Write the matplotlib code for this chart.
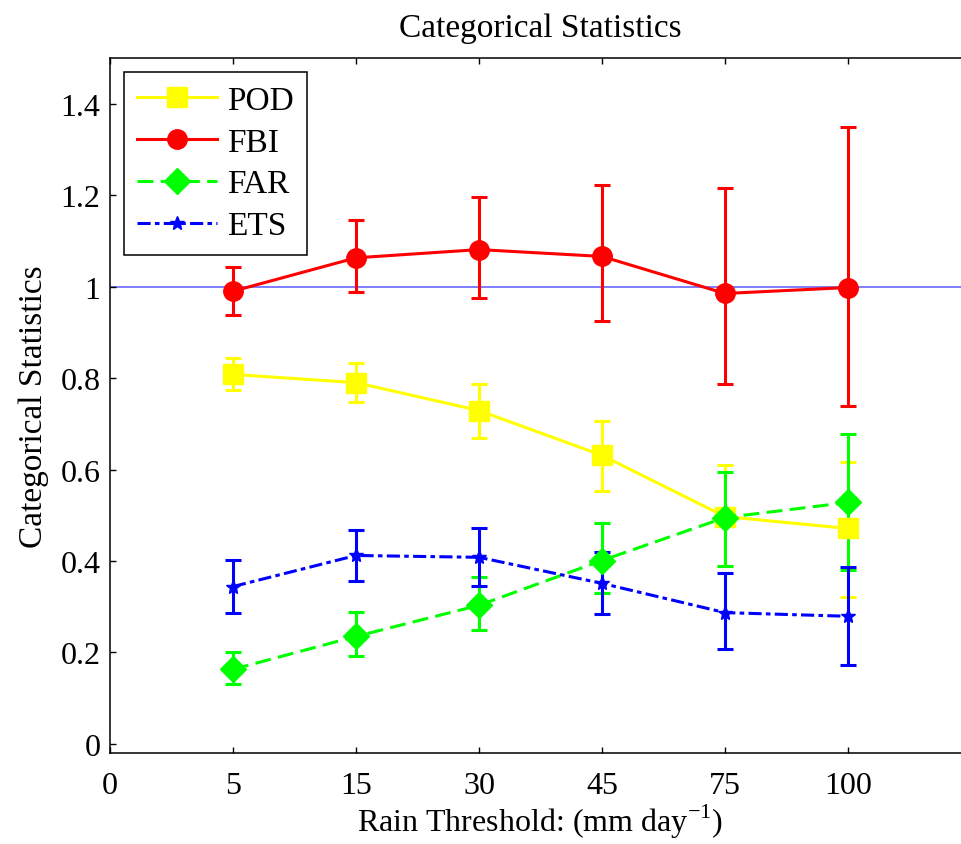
import numpy as np
import matplotlib
matplotlib.use('Agg')
import matplotlib.pyplot as plt

# rain thresholds (mm/day), plotted at equally spaced positions
thresholds = ['5', '15', '30', '45', '75', '100']
x_tick_labels = ['0'] + thresholds

# mean value, lower end and upper end of the error bar for each score
pod = [0.808, 0.790, 0.729, 0.631, 0.497, 0.471]
pod_low = [0.773, 0.747, 0.668, 0.552, 0.390, 0.322]
pod_high = [0.843, 0.834, 0.786, 0.707, 0.609, 0.617]

fbi = [0.990, 1.063, 1.081, 1.066, 0.985, 0.998]
fbi_low = [0.937, 0.989, 0.976, 0.924, 0.788, 0.740]
fbi_high = [1.042, 1.146, 1.195, 1.223, 1.216, 1.350]

far = [0.163, 0.235, 0.303, 0.401, 0.495, 0.528]
far_low = [0.132, 0.193, 0.250, 0.331, 0.388, 0.380]
far_high = [0.200, 0.288, 0.366, 0.484, 0.595, 0.677]

ets = [0.344, 0.412, 0.408, 0.351, 0.287, 0.279]
ets_low = [0.287, 0.357, 0.346, 0.283, 0.207, 0.172]
ets_high = [0.403, 0.467, 0.473, 0.420, 0.373, 0.386]

y_ticks = [0, 0.2, 0.4, 0.6, 0.8, 1.0, 1.2, 1.4]
y_tick_labels = ['0', '0.2', '0.4', '0.6', '0.8', '1', '1.2', '1.4']

plt.rcParams['font.family'] = ['Liberation Serif', 'DejaVu Serif']
plt.rcParams['mathtext.fontset'] = 'custom'
plt.rcParams['mathtext.rm'] = 'Liberation Serif'
fs = 24
fs_tick = 23

W, H = 962, 845
fig = plt.figure(figsize=(W / 100, H / 100), dpi=100)
ax = fig.add_axes([110 / W, 1 - 754 / H, (971 - 110) / W, (754 - 59) / H])

pos = np.arange(1, len(thresholds) + 1)
lw = 2.2

series = [
    ('POD', pod, pod_low, pod_high, '#ffff00', 's', 14, '-'),
    ('FBI', fbi, fbi_low, fbi_high, '#ff0000', 'o', 14, '-'),
    ('FAR', far, far_low, far_high, '#00ff00', 'D', 13, (0, (5.2, 2.4))),
    ('ETS', ets, ets_low, ets_high, '#0000ff', '*', 10, (0, (4.3, 1.4, 1.5, 1.4))),
]

ax.axhline(1.0, color='#5a5aff', lw=1.1, zorder=1)

for name, vals, low, high, color, marker, ms, ls in series:
    vals = np.array(vals)
    yerr = [vals - np.array(low), np.array(high) - vals]
    ax.errorbar(pos, vals, yerr=yerr, fmt='none', ecolor=color,
                elinewidth=lw, capsize=6, capthick=lw, zorder=2)
    ax.plot(pos, vals, color=color, marker=marker, markersize=ms,
            lw=lw, linestyle=ls, label=name, zorder=3)

ax.set_xlim(0, 7)
ax.set_ylim(-0.02, 1.5)
ax.set_xticks(np.arange(0, len(x_tick_labels)))
ax.set_xticklabels(x_tick_labels, fontsize=fs_tick)
ax.set_yticks(y_ticks)
ax.set_yticklabels(y_tick_labels, fontsize=fs_tick)
ax.tick_params(direction='in', length=4, width=1, top=True, right=True)
ax.tick_params(axis='y', pad=7)
ax.tick_params(axis='x', pad=13)
for sp in ax.spines.values():
    sp.set_linewidth(1.1)

ax.set_title('Categorical Statistics', fontsize=fs, pad=16)
ax.set_xlabel('Rain Threshold: (mm day$^{-1}$)', fontsize=23, labelpad=1)
ax.set_ylabel('Categorical Statistics', fontsize=fs, labelpad=8)

leg = ax.legend(loc='upper left', bbox_to_anchor=(124 / W, 1 - 73 / H),
                bbox_transform=fig.transFigure, borderaxespad=0, fontsize=fs,
                fancybox=False, framealpha=1, edgecolor='black', numpoints=1,
                handlelength=2.4, handletextpad=0.3, labelspacing=0.34,
                borderpad=0.4)
leg.get_frame().set_linewidth(1.1)

fig.savefig('out.png', dpi=100)
